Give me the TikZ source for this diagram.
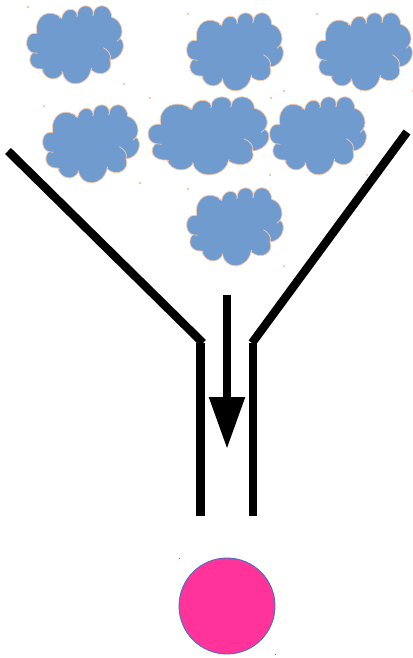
\documentclass[tikz,border=0pt]{standalone}
\usetikzlibrary{arrows.meta}

\definecolor{cloudblue}{HTML}{6F9BCF}
\definecolor{cloudedge}{HTML}{F8CBAD}
\definecolor{ballpink}{HTML}{FF3399}
\definecolor{balledge}{HTML}{4472C4}

\tikzset{
	wall/.style={line width=4.8pt,black},
	puff/.style={fill=cloudblue,draw=cloudedge,line width=0.45pt},
	crease/.style={draw=cloudedge,line width=0.4pt},
	speck/.style={fill=cloudedge},
	ball/.style={circle,draw=balledge,fill=ballpink,line width=0.5pt,inner sep=0,minimum size=96*0.02cm},
	cloud/.pic={
		\path[puff] (-38.3,-11.7)
			.. controls (-41,-30) and (-25,-38) .. (-13.3,-26.7)
			.. controls (-12,-37) and (0,-39) .. (2.3,-30)
			.. controls (2,-42) and (19,-42) .. (18.3,-31)
			.. controls (19,-42) and (36,-43) .. (36.7,-27.7)
			.. controls (45,-26) and (50,-14) .. (45,-6.7)
			.. controls (52,-2) and (48,14) .. (35,15)
			.. controls (39,25) and (27,34) .. (16,25)
			.. controls (12,43) and (-10,43) .. (-12.3,27.7)
			.. controls (-17,37) and (-30,36) .. (-33.3,24)
			.. controls (-45,25) and (-48,14) .. (-42.3,7.7)
			.. controls (-51,6) and (-51,-14) .. (-38.3,-11.7) -- cycle;
		% Inner creases:
		\path[crease] (28.3,2.7) .. controls (33,5) and (37,10) .. (35,15);
		\path[crease] (45,-6.7) -- (42,-3.5);
		\path[crease] (-42.3,7.7) -- (-37.5,8.3);
		\path[crease] (-33.3,24) -- (-31.5,25);
		\path[crease] (-13.3,-26.7) -- (-16,-27.7);
		\path[crease] (2.3,-30) -- (1.7,-28);
		\path[crease] (18.3,-31) -- (17.7,-29);
		\path[crease] (-12.3,27.7) -- (-13.3,26.5);
		\path[crease] (16,25) -- (16.7,23);
		% Corner marks:
		\path[speck] (-47.6,-38.6) rectangle +(1.3,1.3);
		\path[speck] (48.4,38.4) rectangle +(1.3,1.3);
	}
}

\begin{document}
\begin{tikzpicture}[x=0.02cm,y=-0.02cm]

\useasboundingbox (0,0) rectangle (412,658);

\foreach \x/\y/\s in {75/45/1,235/52/1,364/52/1,91/144/1,208.5/136/1.25,318/136/1,235/227/1} {
	\pic[xscale=\s] at (\x,\y) {cloud};
}

% Funnel:
\coordinate (FL1) at (8,151);
\coordinate (FL2) at (203,343);
\coordinate (FL3) at (200.5,343);
\coordinate (FL4) at (200.5,516);
\coordinate (FR1) at (407,132);
\coordinate (FR2) at (252,343);
\coordinate (FR3) at (253,343);
\coordinate (FR4) at (253,516);

\draw[wall] (FL1) -- (FL2);
\draw[wall] (FL3) -- (FL4);
\draw[wall] (FR1) -- (FR2);
\draw[wall] (FR3) -- (FR4);

\coordinate (A1) at (227,295);
\coordinate (A2) at (227,449);
\draw[wall,-{Triangle[length=52*0.02cm,width=34*0.02cm]}] (A1) -- (A2);

\fill[balledge] (178.6,557.6) rectangle +(1,1.6);
\fill[balledge] (275,653.6) rectangle +(1,1.6);
\node[ball] (B) at (227,606) {};

\end{tikzpicture}
\end{document}
